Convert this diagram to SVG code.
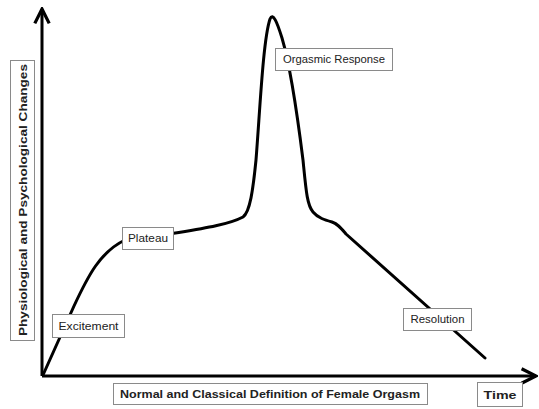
<svg xmlns="http://www.w3.org/2000/svg" width="539" height="409" viewBox="0 0 539 409">
<style>
.box{fill:#fff;stroke:#8a8a8a;stroke-width:1}
.lbl{font-family:"Liberation Sans","Open Sans",Arial,sans-serif;font-size:10px;fill:#222;text-anchor:middle}
.bold{font-weight:bold;font-size:11px}
.axis{fill:none;stroke:#000;stroke-width:3}
.curve{fill:none;stroke:#000;stroke-width:3;stroke-linejoin:round;stroke-linecap:round}
</style>
<defs>
<marker id="arr" viewBox="0 0 10 10" refX="9" refY="5" markerWidth="6" markerHeight="6" markerUnits="strokeWidth" orient="auto">
<path d="M1,1 L9,5 L1,9" fill="none" stroke="#000" stroke-width="1.8"/>
</marker>
</defs>
<rect width="539" height="409" fill="#fff"/>
<g id="connectors">
<path class="axis" d="M42,376 L42,9" marker-end="url(#arr)"/>
<path class="axis" d="M42,376 L536,376" marker-end="url(#arr)"/>
<path class="curve" d="M43,375 L74,306 C88,276 100,252 125,240 L170,234 C200,229 228,225 243,217 C250,212 253,190 256,160 C260,110 263,40 270,19 C273,12 277,22 282,38 C290,65 298,120 303,160 C306,190 307,205 313,212 C318,218 325,220 332,222 C338,224 341,228 346,234 L485,358"/>
</g>
<g id="ylabel">
<rect class="box" x="10.5" y="60.5" width="24" height="280"/>
<text class="lbl bold" transform="translate(26.5,200) rotate(-90)" textLength="272" lengthAdjust="spacingAndGlyphs">Physiological and Psychological Changes</text>
</g>
<g id="excitement">
<rect class="box" x="52.5" y="314.5" width="72" height="23"/>
<text class="lbl" x="88.5" y="329.5" textLength="60" lengthAdjust="spacingAndGlyphs">Excitement</text>
</g>
<g id="plateau">
<rect class="box" x="122.5" y="227.5" width="51" height="22"/>
<text class="lbl" x="148" y="242" textLength="40" lengthAdjust="spacingAndGlyphs">Plateau</text>
</g>
<g id="orgasmic">
<rect class="box" x="275.5" y="48.5" width="117" height="22"/>
<text class="lbl" x="334" y="63" textLength="102" lengthAdjust="spacingAndGlyphs">Orgasmic Response</text>
</g>
<g id="resolution">
<rect class="box" x="403.5" y="308.5" width="68" height="22"/>
<text class="lbl" x="437.5" y="323" textLength="54" lengthAdjust="spacingAndGlyphs">Resolution</text>
</g>
<g id="xlabel">
<rect class="box" x="113.5" y="383.5" width="314" height="21"/>
<text class="lbl bold" x="270" y="398" textLength="300" lengthAdjust="spacingAndGlyphs">Normal and Classical Definition of Female Orgasm</text>
</g>
<g id="time">
<rect class="box" x="477.5" y="382.5" width="45" height="24"/>
<text class="lbl bold" x="500" y="398.5" textLength="33" lengthAdjust="spacingAndGlyphs">Time</text>
</g>
</svg>
